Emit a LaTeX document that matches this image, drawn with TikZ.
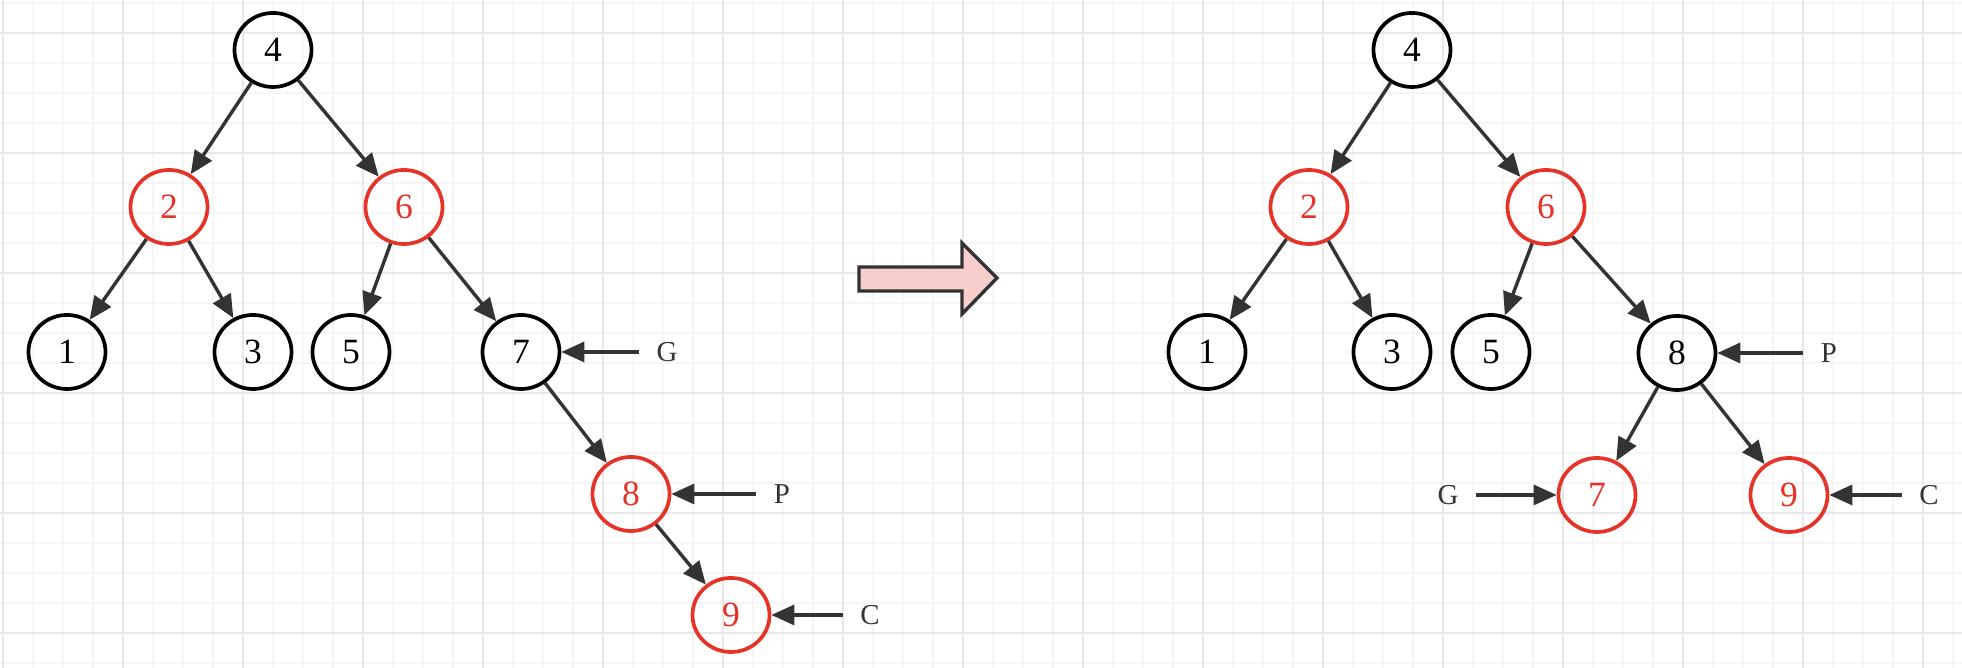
\documentclass[tikz,border=0pt]{standalone}
\usepackage{fontspec}
\setmainfont{Liberation Serif}
\usetikzlibrary{arrows.meta,shapes.geometric}
\definecolor{rbred}{HTML}{E63328}
\definecolor{edgegray}{HTML}{333333}
\definecolor{gridminor}{HTML}{F5F5F5}
\definecolor{gridmajor}{HTML}{E8E8E8}
\definecolor{bigarrow}{HTML}{F8CECC}

\begin{document}
\begin{tikzpicture}[
  x=0.01cm, y=-0.01cm,
  blacknode/.style={ellipse, draw=black, line width=0.037cm, minimum width=0.77cm,
              minimum height=0.74cm, inner sep=0pt, font=\fontsize{10.1}{12}\selectfont},
  rednode/.style={blacknode, draw=rbred, text=rbred},
  tag/.style={font=\fontsize{8.2}{10}\selectfont, text=edgegray, inner xsep=0.17cm, inner ysep=0pt},
  arrow/.style={-{Triangle[length=0.23cm,width=0.2cm]}, line width=0.034cm, draw=edgegray}
]
\useasboundingbox (0,0) rectangle (1962,668);
\fill[white] (0,0) rectangle (1962,668);

% background grid
\foreach \gx in {3,33,...,1953} \draw[gridminor, line width=0.45pt] (\gx,0) -- (\gx,668);
\foreach \gy in {3,33,...,663} \draw[gridminor, line width=0.45pt] (0,\gy) -- (1962,\gy);
\foreach \gx in {3,123,...,1923} \draw[gridmajor, line width=0.45pt] (\gx,0) -- (\gx,668);
\foreach \gy in {33,153,...,633} \draw[gridmajor, line width=0.45pt] (0,\gy) -- (1962,\gy);

% before
\node[blacknode] (l4) at (273,50)  {4};
\node[rednode]   (l2) at (169,207) {2};
\node[rednode]   (l6) at (404,207) {6};
\node[blacknode] (l1) at (67,352)  {1};
\node[blacknode] (l3) at (253,352) {3};
\node[blacknode] (l5) at (351,352) {5};
\node[blacknode] (l7) at (521,352) {7};
\node[rednode]   (l8) at (631,494) {8};
\node[rednode]   (l9) at (731,615) {9};
\node[tag] (lG) at (667,352) {G};
\node[tag] (lP) at (782,494) {P};
\node[tag] (lC) at (870,615) {C};

\draw[arrow] (l4) -- (l2);
\draw[arrow] (l4) -- (l6);
\draw[arrow] (l2) -- (l1);
\draw[arrow] (l2) -- (l3);
\draw[arrow] (l6) -- (l5);
\draw[arrow] (l6) -- (l7);
\draw[arrow] (l7) -- (l8);
\draw[arrow] (l8) -- (l9);
\draw[arrow] (lG) -- (l7);
\draw[arrow] (lP) -- (l8);
\draw[arrow] (lC) -- (l9);

% rotation
\draw[edgegray, fill=bigarrow, line width=0.034cm]
  (859,267) -- (962,267) -- (962,243) -- (997,278) -- (962,314) -- (962,291) -- (859,291) -- cycle;

% after
\node[blacknode] (r4) at (1412,50)  {4};
\node[rednode]   (r2) at (1309,207) {2};
\node[rednode]   (r6) at (1546,207) {6};
\node[blacknode] (r1) at (1207,352) {1};
\node[blacknode] (r3) at (1392,352) {3};
\node[blacknode] (r5) at (1491,352) {5};
\node[blacknode] (r8) at (1677,353) {8};
\node[rednode]   (r7) at (1597,495) {7};
\node[rednode]   (r9) at (1789,495) {9};
\node[tag] (rP) at (1829,353) {P};
\node[tag] (rG) at (1448,495) {G};
\node[tag] (rC) at (1929,495) {C};

\draw[arrow] (r4) -- (r2);
\draw[arrow] (r4) -- (r6);
\draw[arrow] (r2) -- (r1);
\draw[arrow] (r2) -- (r3);
\draw[arrow] (r6) -- (r5);
\draw[arrow] (r6) -- (r8);
\draw[arrow] (r8) -- (r7);
\draw[arrow] (r8) -- (r9);
\draw[arrow] (rP) -- (r8);
\draw[arrow] (rG) -- (r7);
\draw[arrow] (rC) -- (r9);
\end{tikzpicture}
\end{document}
